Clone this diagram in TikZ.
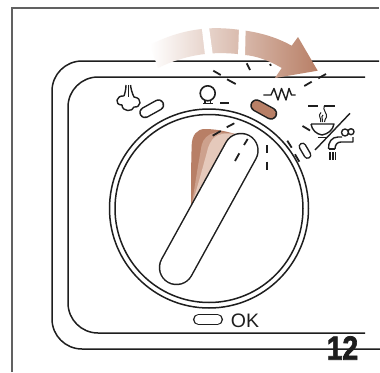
\documentclass[tikz,border=0pt]{standalone}
\usepackage{fontspec}
\setmainfont{Liberation Sans}
\newfontfamily\numfont[FakeBold=2.2]{Liberation Sans Bold}
\definecolor{brA}{HTML}{B87F66}
\definecolor{brB}{HTML}{CDA18D}
\definecolor{brC}{HTML}{E5C9BB}
\definecolor{ink}{HTML}{1E1E1E}
\tikzset{
  ln/.style={draw=ink,line width=1.5pt},
  tick/.style={draw=ink,line width=1.8pt},
  frameline/.style={draw=ink!70,line width=1.1pt},
  icon/.style={draw=ink,line width=1.4pt,line join=round}
}
% #1 capsule half width, #2 fill, #3 start, #4 end
\newcommand{\capsuleshape}[4]{%
  \draw[ink,line width=2*#1 pt+1.5pt,line cap=round] #3 -- #4;
  \draw[#2,line width=2*#1 pt-1.5pt,line cap=round] #3 -- #4;
}
\begin{document}
\begin{tikzpicture}[x=1pt,y=-1pt]
\useasboundingbox (0,0) rectangle (380,372);
\fill[white] (0,0) rectangle (380,372);
% page frame
\draw[frameline] (12,372) -- (12,8) -- (379,8);
% console outlines
\draw[ln,rounded corners=30pt] (379,61) -- (52,61) -- (52,349) -- (380,349);
\draw[ln,rounded corners=30pt] (365,77) -- (68,77) -- (68,333) -- (365,333);
% arrow
\shade[left color=white,right color=brA,shading angle=90]
  (150,45) .. controls (165,37) and (183,31) .. (201.7,29)
  .. controls (215,27.5) and (228,28) .. (245.7,30.7)
  .. controls (262,33) and (278,38) .. (291.7,45.7)
  -- (298,37) -- (317.7,70.7) -- (275,78) -- (281.7,68)
  .. controls (268,60) and (256,56) .. (245,55)
  .. controls (232,53) and (218,52.5) .. (205,54)
  .. controls (188,56) and (172,61) .. (158,68) -- cycle;
\fill[white] (201.7,27) -- (209,27) -- (212.7,54) -- (205,55) -- cycle;
\fill[white] (239,27) -- (245.7,27) -- (245,57) -- (238,57) -- cycle;
% dial
\draw[ln] (209,208.5) circle[radius=99.5];
\draw[ln] (209,208.5) circle[radius=94];
% shaded knob positions
\fill[brA] (191,205) .. controls (191,185) and (191,165) .. (191.7,145)
  .. controls (192,135) and (197,129) .. (205,129)
  .. controls (215,129) and (225,131) .. (235,134) -- (215,180) -- cycle;
\fill[brB] (192,203) .. controls (195,185) and (198,165) .. (201.7,145)
  .. controls (203,139) and (208,134) .. (215,132.5)
  .. controls (222,132) and (228,133) .. (235,134) -- (215,180) -- cycle;
\fill[brC] (193,201) .. controls (198,185) and (202,170) .. (206.7,153)
  .. controls (208,146) and (211,140) .. (215,137)
  .. controls (219,133.5) and (226,133) .. (235,134) -- (215,180) -- cycle;
% knob
\capsuleshape{17}{white}{(241,150.5)}{(176.5,267.5)}
% capsules
\capsuleshape{5}{white}{(145,112.5)}{(158.5,105)}
\capsuleshape{5.5}{brA}{(256.5,105.5)}{(271,113.5)}
\capsuleshape{3.2}{white}{(302.5,146.5)}{(307.5,155)}
\capsuleshape{4.8}{white}{(198.5,319.5)}{(217.5,319.5)}
% ticks
\foreach \a/\b in {%
  {(213.3,70.7)}/{(220.7,75)},{(227,79.3)}/{(235.7,84)},
  {(246.7,63.3)}/{(250,70)},{(270,64)}/{(271,65.7)},
  {(304.3,86)}/{(311.7,81.7)},{(318.3,78.3)}/{(326,74)},
  {(226.7,127.3)}/{(234.3,123.3)},{(212.7,135.7)}/{(220.7,131)},
  {(247.7,139)}/{(244,145)},{(239.3,153.3)}/{(235,161)},
  {(267.3,145)}/{(267.3,153.3)},{(267.3,161.7)}/{(267.3,170)},
  {(287.3,140.7)}/{(291.7,147.7)},{(295,154.3)}/{(299.3,161.7)},
  {(302.5,126)}/{(310,130.5)},{(220,103.3)}/{(229.3,103.3)},
  {(308.3,105.7)}/{(318.3,105.7)}}
  {\draw[tick] \a -- \b;}
% steam cloud icon
\draw[icon] (124,96) .. controls (116,95) and (114,105) .. (122,105)
  .. controls (122,112) and (133,112) .. (134,107)
  .. controls (141,108) and (143,98) .. (134,97)
  .. controls (132,93) and (131,89) .. (130.5,85);
\draw[icon] (124,96) .. controls (125,93) and (126,89) .. (126,85);
\draw[icon] (128.3,85) -- (128.3,97);
% bulb icon
\draw[icon,line width=1.6pt] (207.7,93.3) circle[radius=7.5];
\draw[icon] (205,100.5) -- (205,103.3) (210.5,100.5) -- (210.5,103.3);
\draw[icon,line width=1.6pt] (203,103.6) -- (213,103.6);
% heating icon
\draw[icon] (263.3,95) -- (271,95) -- (274,88.5) -- (278,100) -- (281.5,88.5)
  -- (286,100) -- (289,88.5) -- (291.5,95) -- (295.7,95);
% cup icon
\draw[tick] (324.3,105.7) -- (335,105.7);
\draw[icon,line width=1pt] (324.3,105.7) .. controls (322,110) and (328,114) .. (326.5,117)
  .. controls (325.5,119) and (324.5,120) .. (324.5,122);
\draw[icon,line width=1pt] (321,112.5) .. controls (317,116) and (322,118) .. (320.5,122);
\draw[icon,line width=1pt] (323,115) .. controls (320,117.5) and (324,119) .. (322.5,122);
\draw[icon] (311,124) -- (334,124) .. controls (333,130) and (328,134) .. (322,135)
  .. controls (316,134) and (312,130) .. (311,124);
\draw[icon] (318,137.5) -- (327,137.5);
% tap icon
\draw[icon] (328.5,149) .. controls (328,142) and (332,137) .. (338,137) -- (342,137);
\draw[icon] (335,149) .. controls (335,145) and (337,142) .. (341,142) -- (353,142) -- (353,137);
\draw[icon] (345,132.5) circle[radius=3.5] (351,131.7) circle[radius=3];
\draw[icon] (328.5,149) -- (335,149);
\draw[icon] (330,152) -- (330,160) (332.8,152) -- (332.8,160) (335.6,152) -- (335.6,160);
\draw[icon] (350,113.3) -- (315,150);
% labels
\node[inner sep=0pt,anchor=center,font=\fontsize{19.5}{20}\selectfont,text=ink] (oklabel) at (245,320.5) {OK};
\node[inner sep=0pt,anchor=center,font=\fontsize{33.5}{34}\selectfont\numfont,text=ink,xscale=.84] (pagenum) at (342.5,348) {12};
\end{tikzpicture}
\end{document}
